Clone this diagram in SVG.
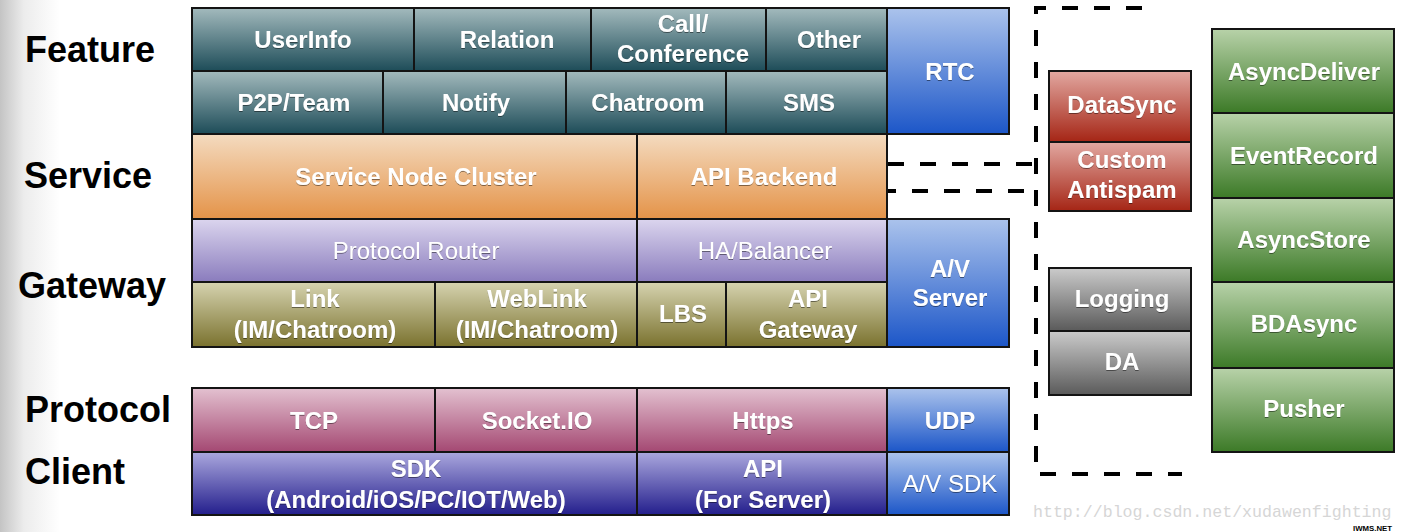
<svg xmlns="http://www.w3.org/2000/svg" width="1406" height="532" viewBox="0 0 1406 532">
<defs>
<linearGradient id="gBg" x1="0" y1="0" x2="1" y2="0"><stop offset="0" stop-color="#c4c4c4"/><stop offset="0.4" stop-color="#ececec"/><stop offset="1" stop-color="#ffffff"/></linearGradient>
<linearGradient id="gTeal" x1="0" y1="0" x2="0" y2="1"><stop offset="0" stop-color="#a3babd"/><stop offset="1" stop-color="#1d4c58"/></linearGradient>
<linearGradient id="gBlue" x1="0" y1="0" x2="0" y2="1"><stop offset="0" stop-color="#abc3ec"/><stop offset="1" stop-color="#1c56c8"/></linearGradient>
<linearGradient id="gOrange" x1="0" y1="0" x2="0" y2="1"><stop offset="0" stop-color="#f4dbc0"/><stop offset="1" stop-color="#e49348"/></linearGradient>
<linearGradient id="gPurple" x1="0" y1="0" x2="0" y2="1"><stop offset="0" stop-color="#dbd5ee"/><stop offset="1" stop-color="#8a7cbd"/></linearGradient>
<linearGradient id="gOlive" x1="0" y1="0" x2="0" y2="1"><stop offset="0" stop-color="#d6d3b0"/><stop offset="1" stop-color="#7a722e"/></linearGradient>
<linearGradient id="gPink" x1="0" y1="0" x2="0" y2="1"><stop offset="0" stop-color="#e3c1d0"/><stop offset="1" stop-color="#a44872"/></linearGradient>
<linearGradient id="gIndigo" x1="0" y1="0" x2="0" y2="1"><stop offset="0" stop-color="#aba8de"/><stop offset="1" stop-color="#231e8c"/></linearGradient>
<linearGradient id="gRed" x1="0" y1="0" x2="0" y2="1"><stop offset="0" stop-color="#e2a8a1"/><stop offset="1" stop-color="#a52515"/></linearGradient>
<linearGradient id="gGray" x1="0" y1="0" x2="0" y2="1"><stop offset="0" stop-color="#cbcbcb"/><stop offset="1" stop-color="#5a5a5a"/></linearGradient>
<linearGradient id="gGreen" x1="0" y1="0" x2="0" y2="1"><stop offset="0" stop-color="#b8d2a9"/><stop offset="1" stop-color="#3c7a27"/></linearGradient>
<filter id="sh" x="-10%" y="-20%" width="120%" height="140%"><feDropShadow dx="0" dy="1" stdDeviation="0.6" flood-color="#000" flood-opacity="0.45"/></filter>
</defs>
<style>
.b{stroke:#141414;stroke-width:2}
.t{font-family:"Liberation Sans",Arial,sans-serif;font-size:24px;font-weight:bold;fill:#fff;text-anchor:middle;filter:url(#sh)}
.r{font-weight:normal}
.lab{font-family:"Liberation Sans",Arial,sans-serif;font-size:36px;font-weight:bold;fill:#000}
.d{fill:none;stroke:#000;stroke-width:4;stroke-dasharray:16 16}
</style>
<rect x="0" y="0" width="60" height="532" fill="url(#gBg)"/>
<g id="labels">
<text class="lab" x="25" y="62">Feature</text>
<text class="lab" x="24" y="188">Service</text>
<text class="lab" x="18" y="298">Gateway</text>
<text class="lab" x="25" y="422">Protocol</text>
<text class="lab" x="25" y="484">Client</text>
</g>
<g id="connectors">
<path class="d" d="M1142,8 H1036 V474 H1182"/>
<path class="d" d="M888,164 H1036"/>
<path class="d" d="M888,191 H1036" style="stroke-dashoffset:8"/>
</g>
<g id="userinfo"><rect class="b" x="192" y="8" width="222" height="63" fill="url(#gTeal)"/><text class="t" x="303" y="48">UserInfo</text></g>
<g id="relation"><rect class="b" x="414" y="8" width="177" height="63" fill="url(#gTeal)"/><text class="t" x="507" y="48">Relation</text></g>
<g id="call"><rect class="b" x="591" y="8" width="175" height="63" fill="url(#gTeal)"/><text class="t" x="683" y="32">Call/</text><text class="t" x="683" y="62">Conference</text></g>
<g id="other"><rect class="b" x="766" y="8" width="121" height="63" fill="url(#gTeal)"/><text class="t" x="829" y="48">Other</text></g>
<g id="rtc"><rect class="b" x="887" y="8" width="122" height="126" fill="url(#gBlue)"/><text class="t" x="950" y="80">RTC</text></g>
<g id="p2p"><rect class="b" x="192" y="71" width="191" height="63" fill="url(#gTeal)"/><text class="t" x="294" y="111">P2P/Team</text></g>
<g id="notify"><rect class="b" x="383" y="71" width="183" height="63" fill="url(#gTeal)"/><text class="t" x="476" y="111">Notify</text></g>
<g id="chatroom"><rect class="b" x="566" y="71" width="160" height="63" fill="url(#gTeal)"/><text class="t" x="648" y="111">Chatroom</text></g>
<g id="sms"><rect class="b" x="726" y="71" width="161" height="63" fill="url(#gTeal)"/><text class="t" x="809" y="111">SMS</text></g>
<g id="servicenode"><rect class="b" x="192" y="134" width="445" height="85" fill="url(#gOrange)"/><text class="t" x="416" y="185">Service Node Cluster</text></g>
<g id="apibackend"><rect class="b" x="637" y="134" width="250" height="85" fill="url(#gOrange)"/><text class="t" x="764" y="185">API Backend</text></g>
<g id="protocolrouter"><rect class="b" x="192" y="219" width="445" height="63" fill="url(#gPurple)"/><text class="t r" x="416" y="259">Protocol Router</text></g>
<g id="habalancer"><rect class="b" x="637" y="219" width="250" height="63" fill="url(#gPurple)"/><text class="t r" x="765" y="259">HA/Balancer</text></g>
<g id="avserver"><rect class="b" x="887" y="219" width="122" height="128" fill="url(#gBlue)"/><text class="t" x="950" y="277">A/V</text><text class="t" x="950" y="306">Server</text></g>
<g id="link"><rect class="b" x="192" y="282" width="243" height="65" fill="url(#gOlive)"/><text class="t" x="315" y="307">Link</text><text class="t" x="315" y="338">(IM/Chatroom)</text></g>
<g id="weblink"><rect class="b" x="435" y="282" width="202" height="65" fill="url(#gOlive)"/><text class="t" x="537" y="307">WebLink</text><text class="t" x="537" y="338">(IM/Chatroom)</text></g>
<g id="lbs"><rect class="b" x="637" y="282" width="89" height="65" fill="url(#gOlive)"/><text class="t" x="683" y="322">LBS</text></g>
<g id="apigateway"><rect class="b" x="726" y="282" width="161" height="65" fill="url(#gOlive)"/><text class="t" x="808" y="307">API</text><text class="t" x="808" y="338">Gateway</text></g>
<g id="tcp"><rect class="b" x="192" y="388" width="243" height="64" fill="url(#gPink)"/><text class="t" x="314" y="429">TCP</text></g>
<g id="socketio"><rect class="b" x="435" y="388" width="202" height="64" fill="url(#gPink)"/><text class="t" x="537" y="429">Socket.IO</text></g>
<g id="https"><rect class="b" x="637" y="388" width="250" height="64" fill="url(#gPink)"/><text class="t" x="763" y="429">Https</text></g>
<g id="udp"><rect class="b" x="887" y="388" width="122" height="64" fill="url(#gBlue)"/><text class="t" x="950" y="429">UDP</text></g>
<g id="sdk"><rect class="b" x="192" y="452" width="445" height="63" fill="url(#gIndigo)"/><text class="t" x="416" y="477">SDK</text><text class="t" x="416" y="508">(Android/iOS/PC/IOT/Web)</text></g>
<g id="api"><rect class="b" x="637" y="452" width="250" height="63" fill="url(#gIndigo)"/><text class="t" x="763" y="477">API</text><text class="t" x="763" y="508">(For Server)</text></g>
<g id="avsdk"><rect class="b" x="887" y="452" width="122" height="63" fill="url(#gBlue)"/><text class="t r" x="950" y="492">A/V SDK</text></g>
<g id="datasync"><rect class="b" x="1049" y="71" width="142" height="71" fill="url(#gRed)"/><text class="t" x="1122" y="113">DataSync</text></g>
<g id="antispam"><rect class="b" x="1049" y="142" width="142" height="69" fill="url(#gRed)"/><text class="t" x="1122" y="168">Custom</text><text class="t" x="1122" y="198">Antispam</text></g>
<g id="logging"><rect class="b" x="1049" y="268" width="142" height="63" fill="url(#gGray)"/><text class="t" x="1122" y="307">Logging</text></g>
<g id="da"><rect class="b" x="1049" y="331" width="142" height="64" fill="url(#gGray)"/><text class="t" x="1122" y="370">DA</text></g>
<g id="asyncdeliver"><rect class="b" x="1212" y="29" width="182" height="84" fill="url(#gGreen)"/><text class="t" x="1304" y="80">AsyncDeliver</text></g>
<g id="eventrecord"><rect class="b" x="1212" y="113" width="182" height="85" fill="url(#gGreen)"/><text class="t" x="1304" y="164">EventRecord</text></g>
<g id="asyncstore"><rect class="b" x="1212" y="198" width="182" height="84" fill="url(#gGreen)"/><text class="t" x="1304" y="248">AsyncStore</text></g>
<g id="bdasync"><rect class="b" x="1212" y="282" width="182" height="86" fill="url(#gGreen)"/><text class="t" x="1304" y="332">BDAsync</text></g>
<g id="pusher"><rect class="b" x="1212" y="368" width="182" height="84" fill="url(#gGreen)"/><text class="t" x="1304" y="417">Pusher</text></g>
<text x="1033" y="517" font-family="'Liberation Mono','DejaVu Sans Mono',monospace" font-size="16.6" fill="#d6d6d6">http://blog.csdn.net/xudawenfighting</text>
<text x="1353" y="531" font-family="'Liberation Sans',Arial,sans-serif" font-size="8" font-weight="bold" fill="#000" stroke="#fff" stroke-width="0.6" paint-order="stroke" textLength="39" lengthAdjust="spacingAndGlyphs">IWMS.NET</text>
</svg>
